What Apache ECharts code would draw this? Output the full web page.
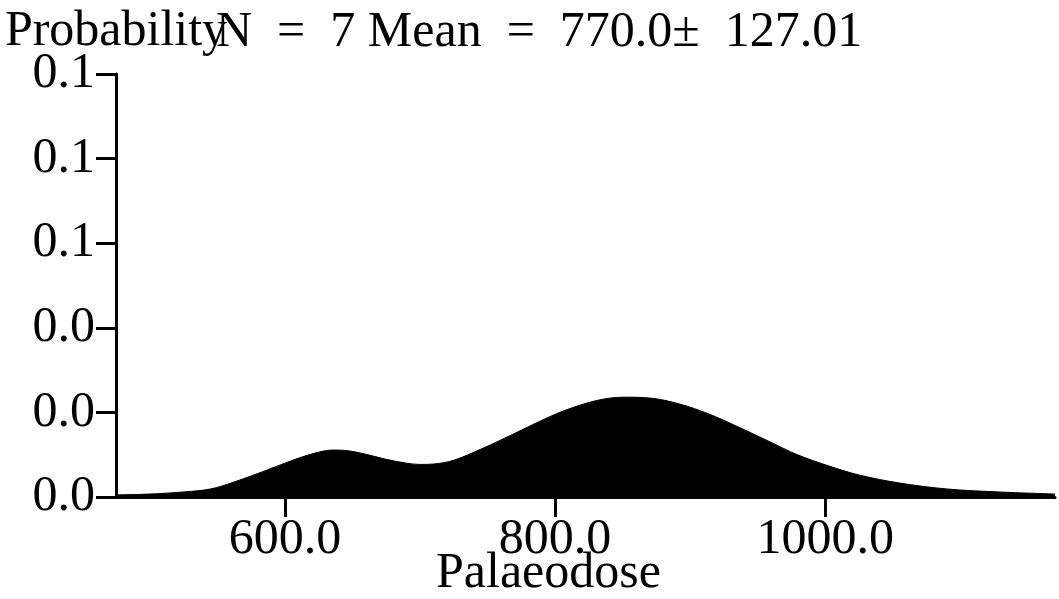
<!DOCTYPE html>
<html>
<head>
<meta charset="utf-8">
<script src="https://cdn.jsdelivr.net/npm/echarts@6/dist/echarts.min.js"></script>
<style>html,body{margin:0;padding:0;background:#fff;}#c{width:1059px;height:599px;}</style>
</head>
<body>
<div id="c"></div>
<script>
// Palaeodose values (x) and probability density (y)
const doseValues = [475, 500, 525, 545, 562, 587, 600, 613, 625, 635, 645, 660, 675, 690, 700, 710, 725, 745, 760, 775, 792, 810, 832, 851, 870, 892, 914, 936, 958, 980, 1003, 1025, 1055, 1090, 1128, 1170];
const probValues = [0.0005, 0.0007, 0.0012, 0.0019, 0.0035, 0.0064, 0.0080, 0.0095, 0.0106, 0.0111, 0.0110, 0.0101, 0.0089, 0.0080, 0.0077, 0.0078, 0.0087, 0.0113, 0.0135, 0.0158, 0.0184, 0.0208, 0.0229, 0.0236, 0.0234, 0.0220, 0.0196, 0.0165, 0.0132, 0.0099, 0.0073, 0.0052, 0.0033, 0.0019, 0.0012, 0.0007];
const xTickValues = [600, 800, 1000];
const titleText = 'N  =  7 Mean  =  770.0\u00b1  127.01';
const yAxisName = 'Probability';
const xAxisName = 'Palaeodose';

const FONT = '"Liberation Serif", "Times New Roman", serif';
const FS = 50;
const chart = echarts.init(document.getElementById('c'), null, {renderer: 'canvas'});
chart.setOption({
  animation: false,
  backgroundColor: '#fff',
  title: {
    text: titleText,
    left: 216, top: 8, padding: 0,
    textStyle: {fontFamily: FONT, fontSize: FS, fontWeight: 'normal', color: '#000'}
  },
  grid: {left: 116, right: 4, top: 74, bottom: 102, containLabel: false, outerBoundsMode: 'none'},
  xAxis: {
    type: 'value', min: 475, max: 1170,
    name: xAxisName, nameLocation: 'middle', nameGap: 52, nameMoveOverlap: false,
    nameTextStyle: {fontFamily: FONT, fontSize: FS, color: '#000', padding: [0, 74, 0, 0]},
    axisLine: {show: true, onZero: false, lineStyle: {color: '#000', width: 3}},
    axisTick: {show: true, length: 20, lineStyle: {color: '#000', width: 3}, customValues: xTickValues},
    axisLabel: {fontFamily: FONT, fontSize: FS, color: '#000', margin: 18, customValues: xTickValues,
      formatter: v => v.toFixed(1)},
    splitLine: {show: false}
  },
  yAxis: {
    type: 'value', min: 0, max: 0.1, interval: 0.02,
    name: yAxisName, nameLocation: 'end', nameGap: 17, nameMoveOverlap: false,
    nameTextStyle: {fontFamily: FONT, fontSize: FS, color: '#000', align: 'center'},
    axisLine: {show: true, lineStyle: {color: '#000', width: 3}},
    axisTick: {show: true, length: 20, lineStyle: {color: '#000', width: 3}},
    axisLabel: {fontFamily: FONT, fontSize: FS, color: '#000', margin: 21,
      formatter: v => v.toFixed(1)},
    splitLine: {show: false}
  },
  series: [{
    type: 'line',
    data: doseValues.map((d, i) => [d, probValues[i]]),
    smooth: 0.35,
    showSymbol: false,
    lineStyle: {color: '#000', width: 1},
    areaStyle: {color: '#000', opacity: 1}
  }]
});
</script>
</body>
</html>
